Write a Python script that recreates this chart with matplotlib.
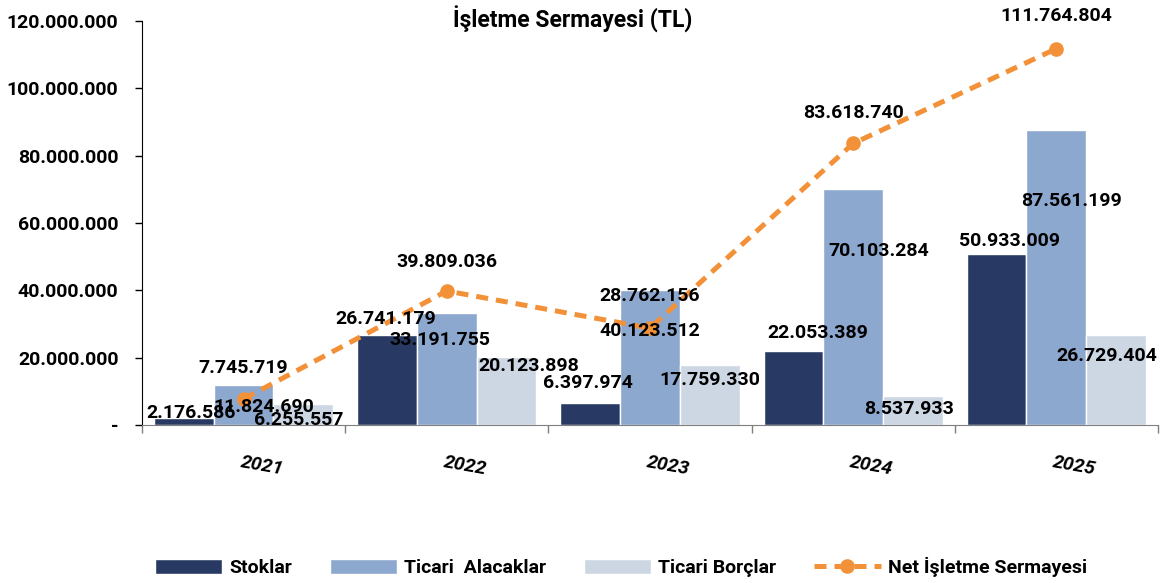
import matplotlib.pyplot as plt
import numpy as np
from matplotlib.ticker import FuncFormatter

years = ["2021", "2022", "2023", "2024", "2025"]
stoklar = [2176586, 26741179, 6397974, 22053389, 50933009]
ticari_alacaklar = [11824690, 33191755, 40123512, 70103284, 87561199]
ticari_borclar = [6255557, 20123898, 17759330, 8537933, 26729404]
net_isletme = [7745719, 39809036, 28762156, 83618740, 111764804]

# label offsets (pixels) from bar top / point, as placed in the original
off_stok = [(7, 5), (-1, 16), (-2, 20), (24, 18), (13, 13)]
off_ta = [(20, -22), (-7, -27), (0, -41), (26, -62), (15, -71)]
off_tb = [(-5, -16), (22, -9), (0, -15), (-4, -13), (-9, -21)]
off_net = [(0, 31), (0, 29), (0, 32), (0, 30), (0, 33)]

colors = {
    'stok': '#283A63',
    'ta': '#8DA8CE',
    'tb': '#CDD6E3',
    'net': '#F29138',
}

plt.rcParams['font.family'] = ['Roboto', 'DejaVu Sans']
plt.rcParams['font.weight'] = 'bold'
FS = 14


def tr_fmt(v, pos=None):
    if v == 0:
        return '-'
    return f"{int(round(v)):,}".replace(',', '.')


fig = plt.figure(figsize=(11.69, 5.83), dpi=100)
ax = fig.add_axes([0.1215, 0.271, 0.869, 0.693])

x = np.arange(len(years))
w = 0.294
series = [
    (stoklar, -w, colors['stok'], 'Stoklar', off_stok),
    (ticari_alacaklar, 0, colors['ta'], 'Ticari  Alacaklar', off_ta),
    (ticari_borclar, w, colors['tb'], 'Ticari Borçlar', off_tb),
]
for vals, shift, col, name, offs in series:
    ax.bar(x + shift, vals, width=w, color=col, edgecolor='white', linewidth=1, label=name, zorder=2)
    for xi, v, (dx, dy) in zip(x + shift, vals, offs):
        ax.annotate(tr_fmt(v), (xi, v), xytext=(dx, dy), textcoords='offset pixels',
                    ha='center', va='center', fontsize=FS, fontweight='bold', color='black', zorder=5)

ax.plot(x, net_isletme, color=colors['net'], linestyle=(0, (2.4, 1.6)), linewidth=3.6,
        marker='o', markersize=9.5, label='Net İşletme Sermayesi', zorder=4)
for xi, v, (dx, dy) in zip(x, net_isletme, off_net):
    ax.annotate(tr_fmt(v), (xi, v), xytext=(dx, dy), textcoords='offset pixels',
                ha='center', va='center', fontsize=FS, fontweight='bold', color='black', zorder=5)

ax.set_xlim(-0.5, len(years) - 0.5)
ax.set_ylim(0, 120000000)
ax.set_yticks(np.arange(0, 120000001, 20000000))
ax.yaxis.set_major_formatter(FuncFormatter(tr_fmt))
ax.tick_params(axis='y', labelsize=14, length=5, width=1, pad=12)
for lab in ax.get_yticklabels():
    lab.set_fontweight('bold')

# category boundary ticks on x axis
ax.set_xticks(np.arange(-0.5, len(years)))
ax.set_xticklabels([])
ax.tick_params(axis='x', length=6, color='#7F7F7F', width=1)
for xi, yr in zip(x, years):
    ax.text(xi + 0.09, -0.1, yr, transform=ax.get_xaxis_transform(), ha='center', va='center',
            rotation=-10, fontsize=FS, fontweight='bold', fontstyle='italic')

ax.spines['top'].set_visible(False)
ax.spines['right'].set_visible(False)
ax.spines['bottom'].set_color('#7F7F7F')
ax.spines['left'].set_color('black')

fig.text(573 / 1169, 1 - 19 / 583, 'İşletme Sermayesi (TL)', ha='center', va='center',
         fontsize=16.5, fontweight='bold')

handles, labels = ax.get_legend_handles_labels()
handles = handles[1:] + handles[:1]
labels = labels[1:] + labels[:1]
leg = fig.legend(handles, labels, loc='center', bbox_to_anchor=(621 / 1169, 1 - 567 / 583), ncol=4,
                 frameon=False, fontsize=FS, handlelength=3.45, handleheight=0.8,
                 columnspacing=1.95, handletextpad=0.36)

plt.savefig('out.png', dpi=100)
